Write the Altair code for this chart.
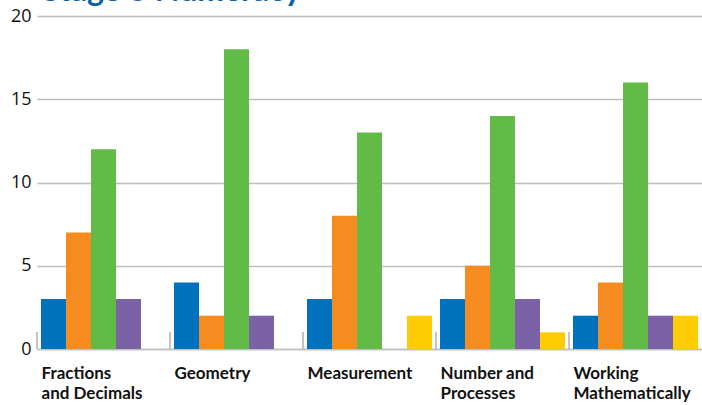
import altair as alt
import pandas as pd

title_text = "Stage 3 Numeracy"
categories = ["Fractions and Decimals", "Geometry", "Measurement",
              "Number and Processes", "Working Mathematically"]
label_lines = [["Fractions", "and Decimals"], ["Geometry"], ["Measurement"],
               ["Number and", "Processes"], ["Working", "Mathematically"]]
series = ["S1", "S2", "S3", "S4", "S5"]
colors = ["#0071bc", "#f68b1f", "#62bb46", "#7b62a6", "#ffcb05"]
s1 = [3, 4, 3, 3, 2]
s2 = [7, 2, 8, 5, 4]
s3 = [12, 18, 13, 14, 16]
s4 = [3, 2, 0, 3, 2]
s5 = [0, 0, 2, 1, 2]

rows = []
for i, c in enumerate(categories):
    for s, vals in zip(series, [s1, s2, s3, s4, s5]):
        rows.append({"cat": c, "series": s, "value": vals[i]})
df = pd.DataFrame(rows)

label_expr = ""
for c, lines in zip(categories, label_lines):
    arr = "[" + ",".join("'" + l + "'" for l in lines) + "]"
    label_expr += f"datum.label == '{c}' ? {arr} : "
label_expr += "datum.label"

W, H = 665, 333

xscale = alt.Scale(domain=categories, paddingInner=0, paddingOuter=0)

bars = alt.Chart(df).mark_bar().encode(
    x=alt.X("cat:N", scale=xscale, sort=categories, title=None,
            axis=alt.Axis(labelExpr=label_expr, labelAngle=0, labelAlign="left",
                          labelBaseline="top", labelOffset=-62, labelPadding=16,
                          labelFont="Lato", labelFontWeight="bold", labelFontSize=17,
                          labelColor="#111", labelLineHeight=20, ticks=False,
                          domainColor="#c0c0c0", domainWidth=1.5)),
    xOffset=alt.XOffset("series:N", scale=alt.Scale(domain=series, paddingInner=0, paddingOuter=0.16)),
    y=alt.Y("value:Q", scale=alt.Scale(domain=[0, 20], nice=False), title=None,
            axis=alt.Axis(values=[0, 5, 10, 15, 20], labelFont="Open Sans", labelFontSize=18,
                          labelColor="#111", labelPadding=6, ticks=False, domain=False,
                          gridColor="#bdbdbd", gridWidth=1.5)),
    color=alt.Color("series:N", scale=alt.Scale(domain=series, range=colors), legend=None),
)

tick_df = pd.DataFrame({"cat": categories})
ticks = alt.Chart(tick_df).mark_rule(color="#c4c4c4", strokeWidth=2).encode(
    x=alt.X("cat:N", scale=xscale, sort=categories, bandPosition=0),
    y=alt.value(H - 17),
    y2=alt.value(H),
)

title_df = pd.DataFrame({"t": [title_text]})
title = alt.Chart(title_df).mark_text(
    align="left", baseline="alphabetic", font="Lato", fontWeight="bold",
    fontSize=32, color="#0b63ad"
).encode(text="t:N", x=alt.value(5), y=alt.value(-15))

chart = alt.layer(bars, ticks, title).properties(
    width=W, height=H,
    padding={"left": 37, "top": 16, "right": 0, "bottom": 56},
    autosize=alt.AutoSizeParams(type="none"),
).configure_view(stroke=None).configure_axis(labelFontWeight="normal")

chart.save("out.html", embed_options={"renderer": "svg", "actions": False})
